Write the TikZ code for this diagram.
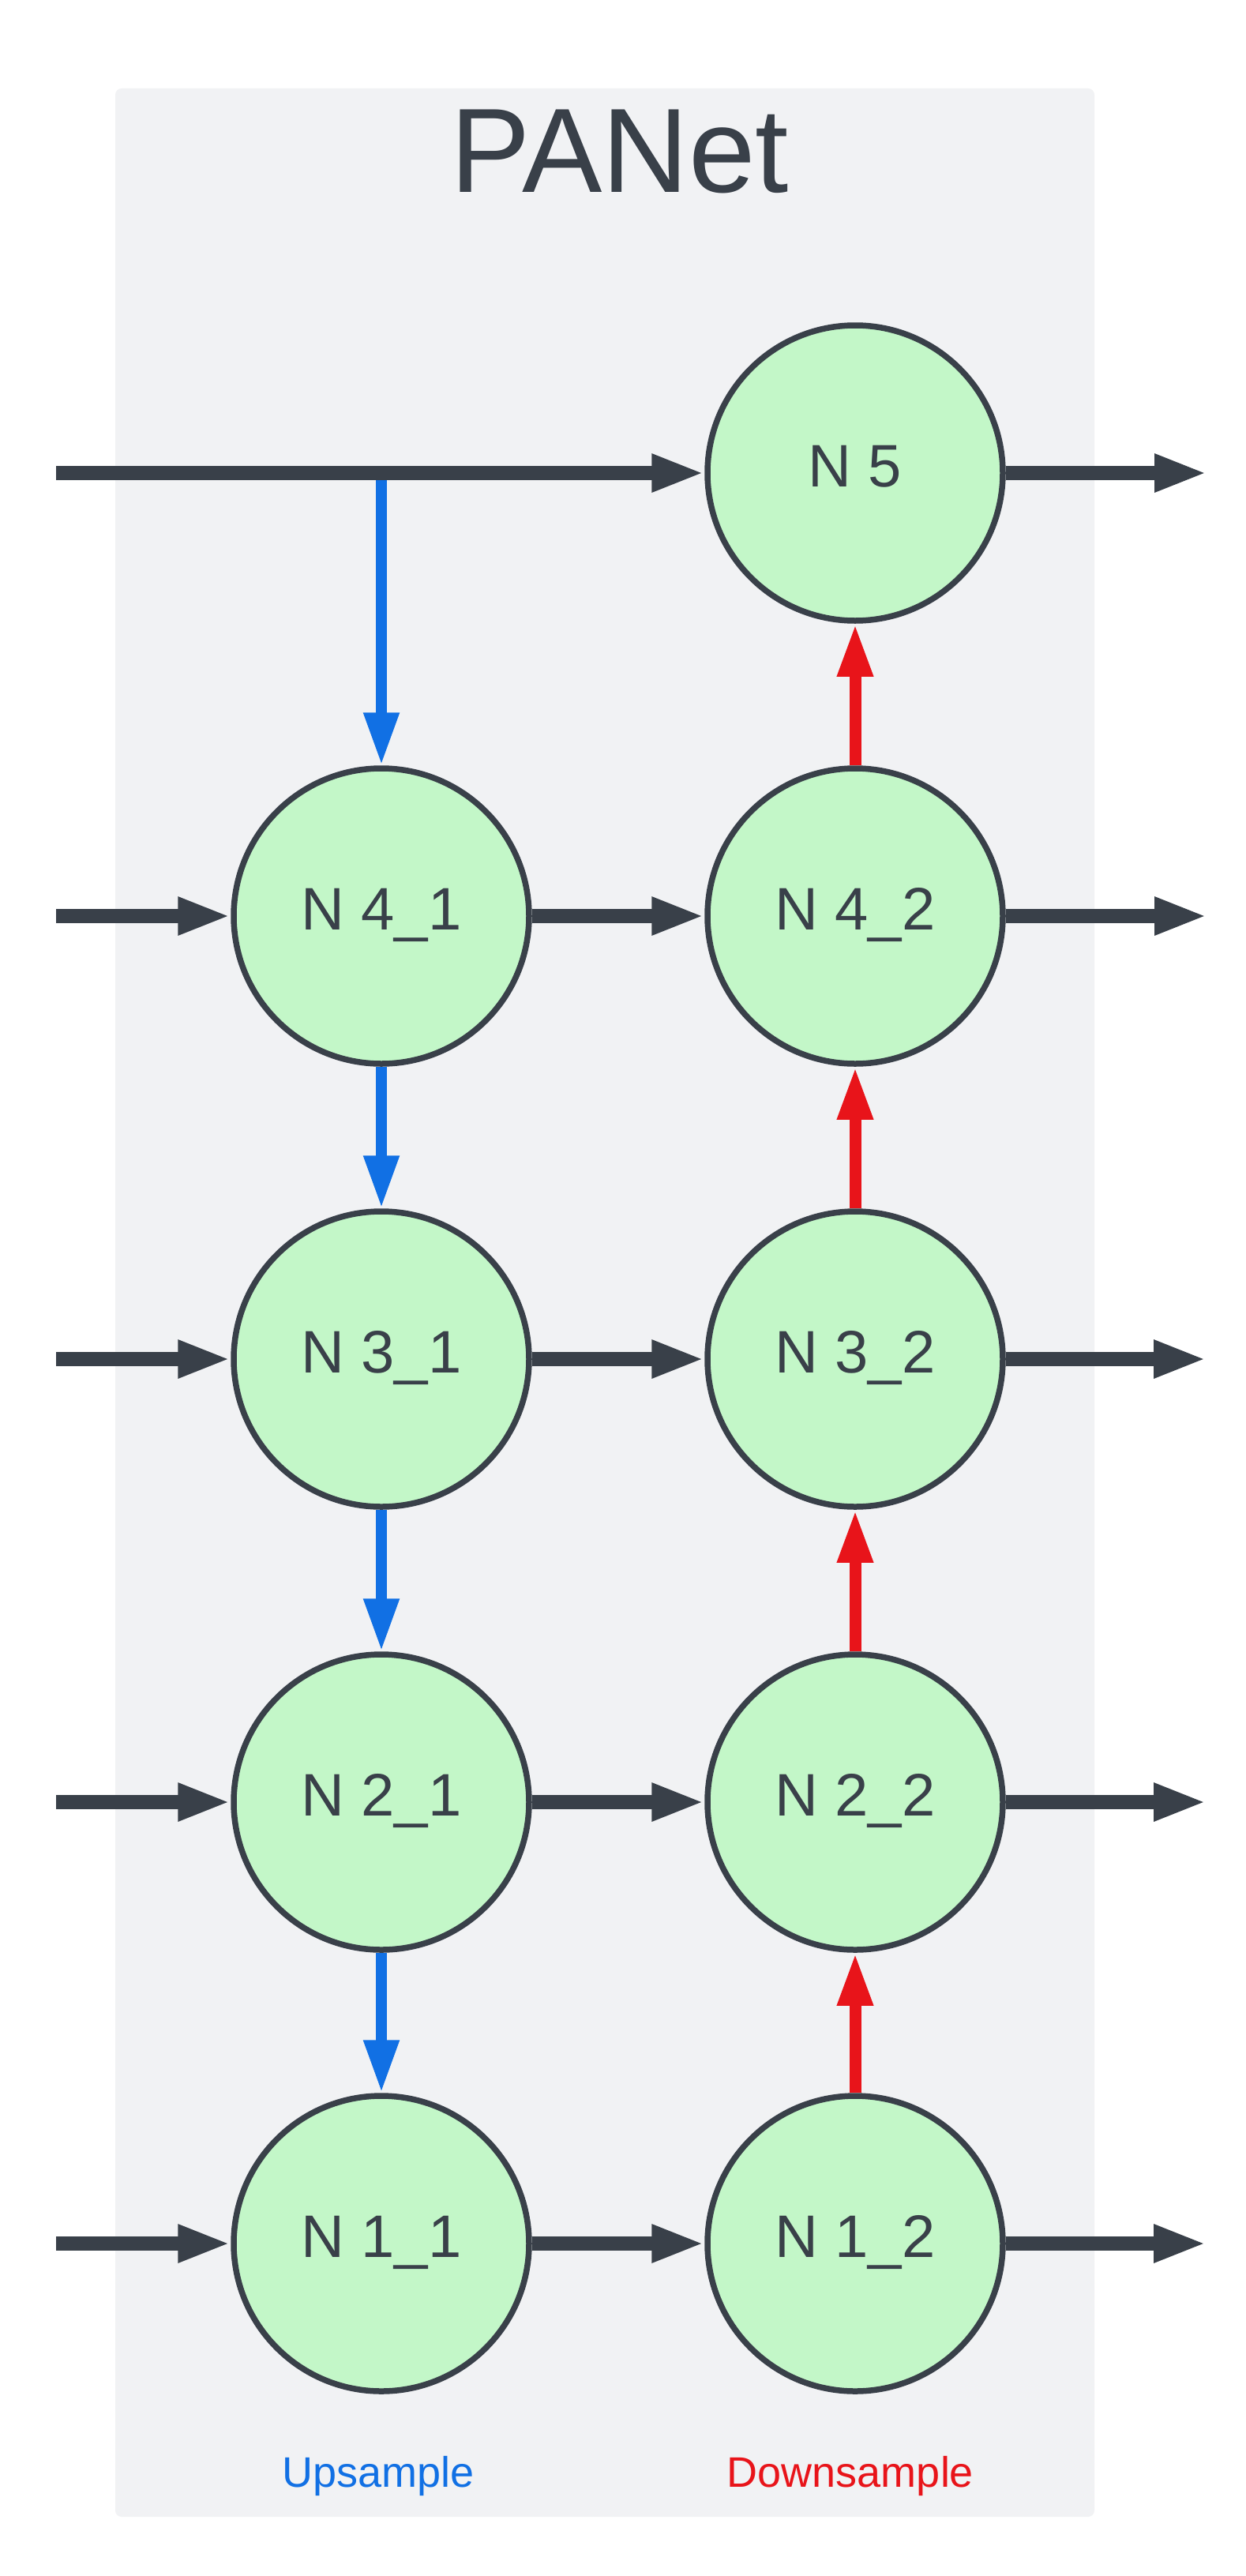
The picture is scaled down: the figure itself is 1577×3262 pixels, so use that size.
\documentclass[tikz,border=0pt]{standalone}
\usepackage{fontspec}
\setmainfont{Liberation Sans}
\usetikzlibrary{arrows.meta}
\definecolor{ink}{HTML}{394049}
\definecolor{panel}{HTML}{F1F2F4}
\definecolor{nodefill}{HTML}{C3F7C8}
\definecolor{upblue}{HTML}{1170E4}
\definecolor{downred}{HTML}{E8141A}

\begin{document}
\begin{tikzpicture}[x=1pt,y=-1pt,
  feat/.style={circle, draw=ink, fill=nodefill, line width=7.5pt, minimum size=374pt,
    inner sep=0pt, text=ink, text height=62pt, text depth=28pt,
    font=\fontsize{76}{90}\selectfont},
  flow/.style={draw=ink, line width=18pt, -{Triangle[length=67pt,width=44pt]}},
  upflow/.style={draw=upblue, line width=14pt, -{Triangle[length=67pt,width=42pt]}},
  downflow/.style={draw=downred, line width=15pt, -{Triangle[length=67pt,width=42pt]}},
  caption/.style={anchor=base, font=\fontsize{54}{64}\selectfont},
]
\useasboundingbox (0,0) rectangle (1577,3262);
\fill[white] (0,0) rectangle (1577,3262);
\fill[panel, rounded corners=8pt] (146,112) rectangle (1386,3187);

\node[anchor=base, text=ink, font=\fontsize{152}{182}\selectfont] (title) at (785,243) {PANet};

% feature nodes
\node[feat] (n5)  at (1083,599)  {N 5};
\node[feat] (n41) at (483,1160)  {N 4\_1};
\node[feat] (n42) at (1083,1160) {N 4\_2};
\node[feat] (n31) at (483,1721)  {N 3\_1};
\node[feat] (n32) at (1083,1721) {N 3\_2};
\node[feat] (n21) at (483,2282)  {N 2\_1};
\node[feat] (n22) at (1083,2282) {N 2\_2};
\node[feat] (n11) at (483,2841)  {N 1\_1};
\node[feat] (n12) at (1083,2841) {N 1\_2};

% inputs and outputs
\coordinate (in5) at (71,599);
\coordinate (in4) at (71,1160);
\coordinate (in3) at (71,1721);
\coordinate (in2) at (71,2282);
\coordinate (in1) at (71,2841);
\coordinate (out5) at (1529,599);
\coordinate (out4) at (1529,1160);
\coordinate (out3) at (1528,1721);
\coordinate (out2) at (1528,2282);
\coordinate (out1) at (1528,2841);
\coordinate (split) at (483,599);

% top-down path
\draw[upflow] (split) -- (n41);
\draw[upflow] (n41) -- (n31);
\draw[upflow] (n31) -- (n21);
\draw[upflow] (n21) -- (n11);

% bottom-up path
\draw[downflow] (n12) -- (n22);
\draw[downflow] (n22) -- (n32);
\draw[downflow] (n32) -- (n42);
\draw[downflow] (n42) -- (n5);

% lateral connections
\draw[flow] (in5) -- (n5);
\draw[flow] (in4) -- (n41);
\draw[flow] (in3) -- (n31);
\draw[flow] (in2) -- (n21);
\draw[flow] (in1) -- (n11);
\draw[flow] (n41) -- (n42);
\draw[flow] (n31) -- (n32);
\draw[flow] (n21) -- (n22);
\draw[flow] (n11) -- (n12);
\draw[flow] (n5) -- (out5);
\draw[flow] (n42) -- (out4);
\draw[flow] (n32) -- (out3);
\draw[flow] (n22) -- (out2);
\draw[flow] (n12) -- (out1);

\node[caption, text=upblue] (uplabel) at (479,3149) {Upsample};
\node[caption, text=downred] (downlabel) at (1077,3149) {Downsample};
\end{tikzpicture}
\end{document}
